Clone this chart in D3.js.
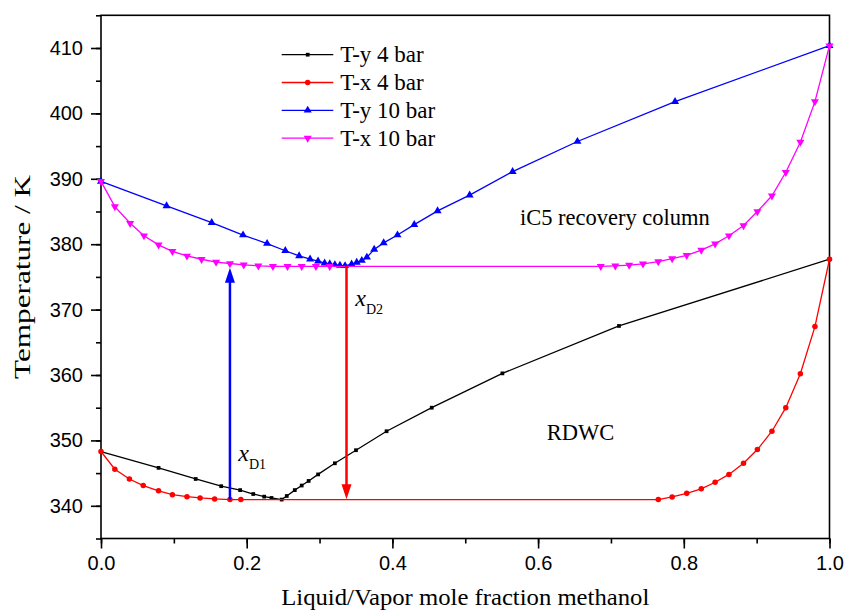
<!DOCTYPE html>
<html>
<head>
<meta charset="utf-8">
<script src="https://cdn.jsdelivr.net/npm/d3@7"></script>
<style>
  body { margin: 0; background: #fff; }
  svg { display: block; }
</style>
</head>
<body>
<div id="chart"></div>
<script>
// T-y / T-x data, [mole fraction methanol, temperature K]
const tY4 = [[0, 348.3], [0.079, 345.8], [0.130, 344.1], [0.165, 343.0], [0.191, 342.4], [0.209, 341.8],
  [0.224, 341.4], [0.234, 341.2], [0.248, 340.95], [0.255, 341.5], [0.266, 342.4], [0.2755, 343.1],
  [0.285, 343.8], [0.298, 344.8], [0.321, 346.5], [0.350, 348.5], [0.392, 351.4], [0.454, 355.0],
  [0.551, 360.25], [0.711, 367.5], [1.0, 377.7]]
const tX4 = [[0, 348.3], [0.019, 345.6], [0.039, 344.1], [0.058, 343.1], [0.079, 342.3], [0.098, 341.7],
  [0.118, 341.4], [0.136, 341.2], [0.156, 341.05], [0.177, 340.95], [0.192, 340.95], [0.765, 340.95],
  [0.784, 341.35], [0.804, 341.9], [0.824, 342.6], [0.843, 343.6], [0.862, 344.8], [0.882, 346.5],
  [0.901, 348.6], [0.921, 351.4], [0.940, 355.0], [0.960, 360.2], [0.980, 367.4], [1.0, 377.7]]
const tY10 = [[0, 389.6], [0.090, 385.85], [0.152, 383.3], [0.195, 381.4], [0.228, 380.1], [0.253, 379.0],
  [0.272, 378.2], [0.287, 377.7], [0.298, 377.4], [0.307, 377.1], [0.314, 377.0], [0.321, 376.85],
  [0.328, 376.75], [0.335, 376.7], [0.344, 376.95], [0.351, 377.2], [0.358, 377.5], [0.365, 378.0],
  [0.375, 379.2], [0.388, 380.2], [0.407, 381.4], [0.430, 383.0], [0.462, 385.1], [0.506, 387.5],
  [0.565, 391.1], [0.654, 395.7], [0.788, 401.8], [1.0, 410.35]]
const tX10 = [[0, 389.6], [0.019, 385.75], [0.040, 383.2], [0.059, 381.3], [0.079, 379.9], [0.098, 378.9],
  [0.118, 378.2], [0.138, 377.7], [0.158, 377.25], [0.177, 377.05], [0.196, 376.85], [0.216, 376.7],
  [0.236, 376.6], [0.256, 376.6], [0.2755, 376.6], [0.295, 376.6], [0.314, 376.6], [0.686, 376.6],
  [0.706, 376.7], [0.725, 376.8], [0.744, 377.0], [0.765, 377.35], [0.784, 377.8], [0.804, 378.3],
  [0.824, 379.1], [0.843, 380.05], [0.862, 381.3], [0.882, 382.85], [0.901, 385.0], [0.921, 387.4],
  [0.940, 391.0], [0.960, 395.6], [0.980, 401.8], [1.0, 410.35]]

const seriesNames = ['T-y 4 bar', 'T-x 4 bar', 'T-y 10 bar', 'T-x 10 bar']
const xTicks = [0, 0.2, 0.4, 0.6, 0.8, 1.0]
const xMinorTicks = [0, 0.1, 0.2, 0.3, 0.4, 0.5, 0.6, 0.7, 0.8, 0.9, 1.0]
const yTicks = [340, 350, 360, 370, 380, 390, 400, 410]
const yMinorTicks = [335, 340, 345, 350, 355, 360, 365, 370, 375, 380, 385, 390, 395, 400, 405, 410, 415]

// distillate arrows: [x, T start, T end]
const arrowD1 = [0.177, 340.95, 376.4]
const arrowD2 = [0.337, 376.7, 341.0]

const MARGIN = { TOP: 15.3, BOTTOM: 74.5, LEFT: 101, RIGHT: 17.5 }
const WIDTH = 847 - MARGIN.LEFT - MARGIN.RIGHT
const HEIGHT = 613 - MARGIN.TOP - MARGIN.BOTTOM
const SERIF = '"Liberation Serif", "Times New Roman", serif'
const SANS = '"Liberation Sans", Arial, sans-serif'

const styles = [
  { color: '#000000', symbol: d3.symbolSquare, size: 14, rot: 0 },
  { color: '#ff0000', symbol: d3.symbolCircle, size: 24, rot: 0 },
  { color: '#0000ff', symbol: d3.symbolTriangle, size: 28, rot: 0 },
  { color: '#ff00ff', symbol: d3.symbolTriangle, size: 28, rot: 180 }
]

const svg = d3.select('#chart')
  .append('svg')
    .attr('width', 847)
    .attr('height', 613)

const g = svg.append('g')
  .attr('transform', `translate(${MARGIN.LEFT}, ${MARGIN.TOP})`)

const x = d3.scaleLinear().domain([0, 1]).range([0, WIDTH])
const y = d3.scaleLinear().domain([335, 415]).range([HEIGHT, 0])

// frame
g.append('rect')
  .attr('width', WIDTH)
  .attr('height', HEIGHT)
  .attr('fill', 'none')
  .attr('stroke', '#000')
  .attr('stroke-width', 1.6)

// axes
const styleAxis = (sel) => {
  sel.select('.domain').remove()
  sel.selectAll('line').attr('stroke', '#000').attr('stroke-width', 1.6)
  sel.selectAll('text').attr('font-family', SANS).attr('font-size', 20).attr('fill', '#000')
}

g.append('g')
  .attr('transform', `translate(0, ${HEIGHT})`)
  .call(d3.axisBottom(x).tickValues(xMinorTicks).tickSize(5).tickFormat(''))
  .call(styleAxis)
g.append('g')
  .attr('transform', `translate(0, ${HEIGHT})`)
  .call(d3.axisBottom(x).tickValues(xTicks).tickSize(10).tickPadding(7).tickFormat(d3.format('.1f')))
  .call(styleAxis)

g.append('g')
  .call(d3.axisLeft(y).tickValues(yMinorTicks).tickSize(5).tickFormat(''))
  .call(styleAxis)
g.append('g')
  .call(d3.axisLeft(y).tickValues(yTicks).tickSize(10).tickPadding(8).tickFormat(d3.format('d')))
  .call(styleAxis)

// axis titles
g.append('text')
  .attr('x', WIDTH / 2)
  .attr('y', HEIGHT + 67)
  .attr('text-anchor', 'middle')
  .attr('font-family', SERIF)
  .attr('font-size', 24)
  .attr('textLength', 368)
  .attr('lengthAdjust', 'spacingAndGlyphs')
  .text('Liquid/Vapor mole fraction methanol')

g.append('text')
  .attr('transform', `translate(-71, ${HEIGHT / 2}) rotate(-90)`)
  .attr('text-anchor', 'middle')
  .attr('font-family', SERIF)
  .attr('font-size', 24)
  .attr('textLength', 204)
  .attr('lengthAdjust', 'spacingAndGlyphs')
  .text('Temperature / K')

// curves
const line = d3.line()
  .x(d => x(d[0]))
  .y(d => y(d[1]))

const allSeries = [tY4, tX4, tY10, tX10]

allSeries.forEach((data, i) => {
  const s = styles[i]
  g.append('path')
    .datum(data)
    .attr('d', line)
    .attr('fill', 'none')
    .attr('stroke', s.color)
    .attr('stroke-width', 1.3)

  g.append('g').selectAll('path')
    .data(data)
    .enter()
    .append('path')
      .attr('d', d3.symbol().type(s.symbol).size(s.size))
      .attr('transform', d => `translate(${x(d[0])}, ${y(d[1])}) rotate(${s.rot})`)
      .attr('fill', s.color)
})

// arrows
const drawArrow = (a, color) => {
  const px = x(a[0])
  const y0 = y(a[1])
  const y1 = y(a[2])
  const dir = y1 < y0 ? -1 : 1
  const head = 15
  g.append('line')
    .attr('x1', px).attr('x2', px)
    .attr('y1', y0).attr('y2', y1 - dir * head + dir * 2)
    .attr('stroke', color)
    .attr('stroke-width', 2.5)
  g.append('path')
    .attr('d', `M${px},${y1} L${px - 5},${y1 - dir * head} L${px + 5},${y1 - dir * head} Z`)
    .attr('fill', color)
}
drawArrow(arrowD1, '#0000ff')
drawArrow(arrowD2, '#ff0000')

// annotations
const subLabel = (xv, tv, sub) => {
  const t = g.append('text')
    .attr('x', x(xv))
    .attr('y', y(tv))
    .attr('font-family', SERIF)
    .attr('fill', '#000')
  t.append('tspan')
    .attr('font-size', 24)
    .attr('font-style', 'italic')
    .text('x')
  t.append('tspan')
    .attr('font-size', 14)
    .attr('dy', 8)
    .text(sub)
}
subLabel(0.1885, 346.9, 'D1')
subLabel(0.349, 370.5, 'D2')

g.append('text')
  .attr('x', x(0.575))
  .attr('y', y(382.9))
  .attr('font-family', SERIF)
  .attr('font-size', 22.5)
  .text('iC5 recovery column')

g.append('text')
  .attr('x', x(0.612))
  .attr('y', y(350.1))
  .attr('font-family', SERIF)
  .attr('font-size', 22.5)
  .text('RDWC')

// legend
const legend = svg.append('g')
  .attr('transform', 'translate(281.7, 54.7)')

seriesNames.forEach((name, i) => {
  const s = styles[i]
  const row = legend.append('g')
    .attr('transform', `translate(0, ${i * 27.8})`)
  row.append('line')
    .attr('x1', 0).attr('x2', 51.6)
    .attr('stroke', s.color)
    .attr('stroke-width', 1.3)
  row.append('path')
    .attr('d', d3.symbol().type(s.symbol).size(s.size))
    .attr('transform', `translate(26, 0) rotate(${s.rot})`)
    .attr('fill', s.color)
  row.append('text')
    .attr('x', 58.5)
    .attr('y', 7.5)
    .attr('font-family', SERIF)
    .attr('font-size', 23)
    .text(name)
})
</script>
</body>
</html>
